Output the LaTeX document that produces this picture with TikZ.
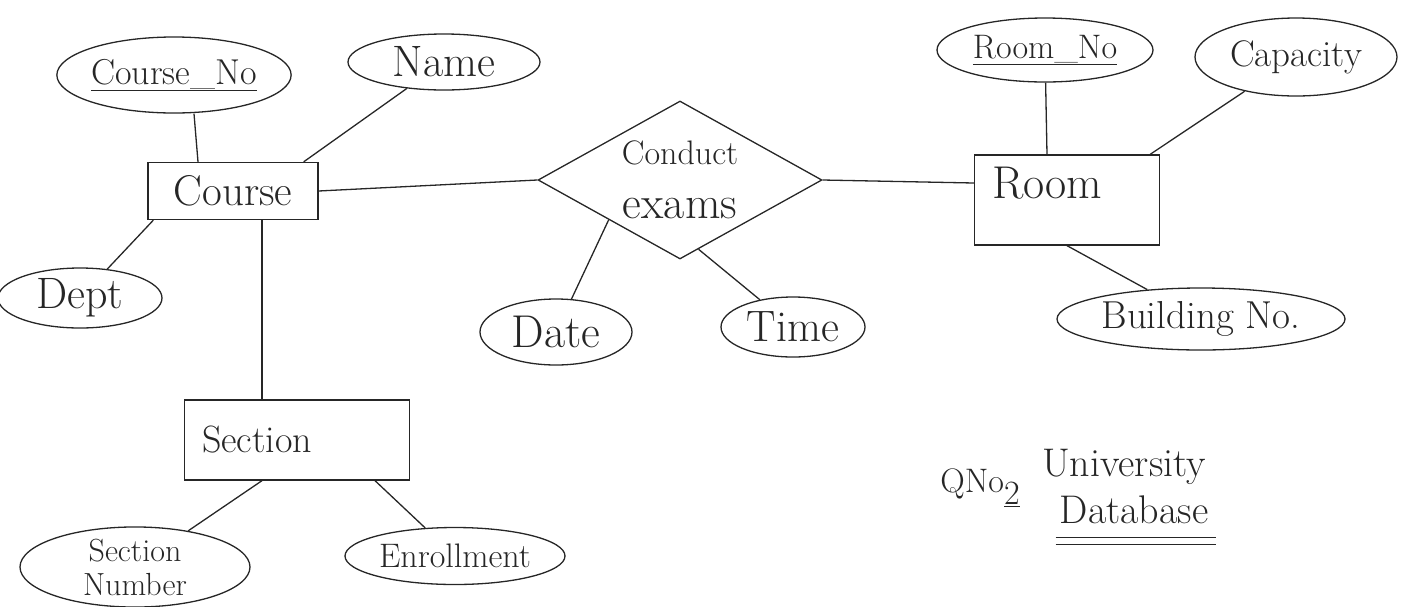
\documentclass[tikz,border=0pt]{standalone}
\usepackage{fontspec}
\usetikzlibrary{shapes.geometric}

\tikzset{
    entity/.style={draw=black!85, text=black!85, line width=1.3pt, inner sep=0pt,
        font=\fontsize{40}{44}\selectfont},
    attrib/.style={draw=black!85, text=black!85, ellipse, line width=1.3pt, inner sep=0pt,
        font=\fontsize{34}{36}\selectfont},
    rel/.style={draw=black!85, text=black!85, diamond, aspect=1.8, line width=1.3pt, inner sep=0pt,
        align=center},
    link/.style={draw=black!85, line width=1.3pt},
    note/.style={text=black!85, inner sep=0pt, font=\fontsize{40}{42}\selectfont}
}

\begin{document}
\begin{tikzpicture}[x=1pt, y=-1pt]
        \useasboundingbox (0,0) rectangle (1409,606);

        % --- Course and its attributes ---
        \node[entity, minimum width=170pt, minimum height=57pt, font=\fontsize{43}{46}\selectfont] (course) at (233,191) {Course};
        \node[attrib, minimum width=212pt, minimum height=76pt, font=\fontsize{36}{38}\selectfont] (courseno) at (174,75) {\underline{Course\_No}};
        \node[attrib, minimum width=192pt, minimum height=56pt, font=\fontsize{44}{46}\selectfont] (name) at (444,62) {Name};
        \node[attrib, minimum width=164pt, minimum height=60pt, font=\fontsize{44}{46}\selectfont] (dept) at (80,298) {Dept};

        \draw[link] ([xshift=20pt]courseno.south) -- ([xshift=-35pt]course.north);
        \draw[link] (name) -- ([xshift=-15pt]course.north east);
        \draw[link] (dept) -- ([xshift=6pt]course.south west);

        % --- Section and its attributes ---
        \node[entity, minimum width=225pt, minimum height=80pt, text width=190pt, align=left,
            font=\fontsize{38}{40}\selectfont] (section) at (297,440) {Section};
        \node[attrib, minimum width=230pt, minimum height=70pt, align=center,
            font=\fontsize{32}{34}\selectfont] (secnum) at (135,567) {Section\\Number};
        \node[attrib, minimum width=220pt, minimum height=57pt] (enroll) at (455,556) {Enrollment};

        \draw[link] ([xshift=29pt]course.south) -- ([xshift=-35pt]section.north);
        \draw[link] ([xshift=-35pt]section.south) -- (secnum);
        \draw[link] ([xshift=78pt]section.south) -- (enroll);

        % --- Relationship: Conduct exams ---
        \node[rel, minimum width=284pt, minimum height=158pt, font=\fontsize{46}{50}\selectfont] (exam) at (680,180)
            {{\fontsize{34}{36}\selectfont Conduct}\\[4pt]exams};
        \node[attrib, minimum width=152pt, minimum height=66pt, font=\fontsize{46}{48}\selectfont] (date) at (556,332) {Date};
        \node[attrib, minimum width=144pt, minimum height=60pt, font=\fontsize{44}{46}\selectfont] (time) at (793,327) {Time};

        \draw[link] (course.east) -- (exam.west);
        \draw[link] (exam.south west) -- (date);
        \draw[link] (exam.-75) -- (time);

        % --- Room and its attributes ---
        \node[entity, minimum width=185pt, minimum height=90pt, text width=150pt, align=left, text depth=34pt,
            font=\fontsize{46}{48}\selectfont] (room) at (1067,200) {Room};
        \node[attrib, minimum width=216pt, minimum height=64pt] (roomno) at (1045,50) {\underline{Room\_No}};
        \node[attrib, minimum width=202pt, minimum height=78pt, font=\fontsize{37}{39}\selectfont] (capacity) at (1296,57) {Capacity};
        \node[attrib, minimum width=288pt, minimum height=62pt, font=\fontsize{39}{41}\selectfont] (building) at (1201,319) {Building No.};

        \draw[link] (exam.east) -- ([yshift=17pt]room.west);
        \draw[link] (roomno) -- ([xshift=-20pt]room.north);
        \draw[link] (capacity) -- ([xshift=-10pt]room.north east);
        \draw[link] (room.south) -- (building);

        % --- Title ---
        \node[note, font=\fontsize{34}{36}\selectfont] (qno) at (980,488) {QNo\raisebox{-0.35em}{\underline{2}}};
        \node[note] (univ) at (1124,467) {University};
        \node[note] (dbase) at (1134,510) {Database};
        \draw[link] ([xshift=-4pt,yshift=-14pt]dbase.base west) -- ([xshift=8pt,yshift=-14pt]dbase.base east);
        \draw[link] ([xshift=-4pt,yshift=-21pt]dbase.base west) -- ([xshift=8pt,yshift=-21pt]dbase.base east);

\end{tikzpicture}
\end{document}
